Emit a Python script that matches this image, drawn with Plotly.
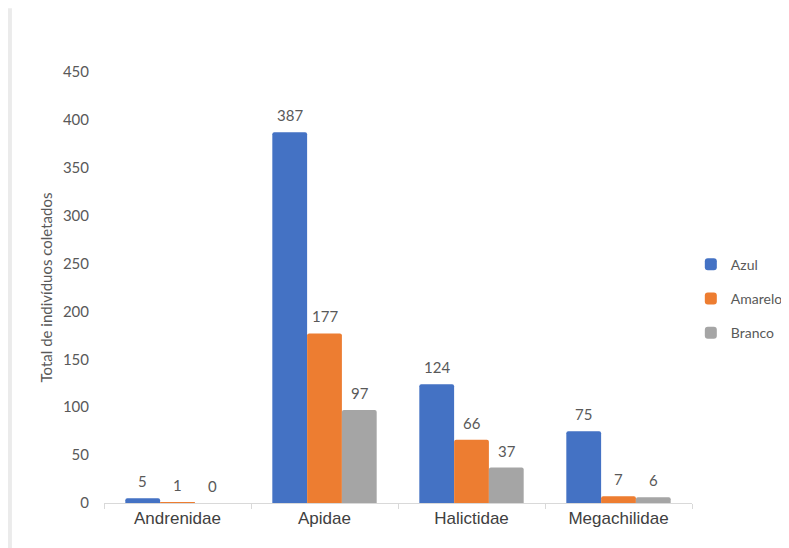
import plotly.graph_objects as go

categories = ["Andrenidae", "Apidae", "Halictidae", "Megachilidae"]
azul = [5, 387, 124, 75]
amarelo = [1, 177, 66, 7]
branco = [0, 97, 37, 6]
series_names = ["Azul", "Amarelo", "Branco"]
colors = ["#4472C4", "#ED7D31", "#A5A5A5"]
y_ticks = [0, 50, 100, 150, 200, 250, 300, 350, 400, 450]

fig = go.Figure()
all_series = [azul, amarelo, branco]
for name, vals, c in zip(series_names, all_series, colors):
    fig.add_trace(go.Bar(x=categories, y=vals, name=name, legendgroup=name,
                         marker=dict(color=c, line=dict(width=0))))

bar_px = 35
annotations = []
for i, vals in enumerate(all_series):
    for cat, v in zip(categories, vals):
        annotations.append(dict(
            x=cat, y=v, xref="x", yref="y", text=str(v), showarrow=False,
            xshift=(i - 1) * bar_px, yshift=6, yanchor="bottom",
            font=dict(family="Lato, Open Sans, sans-serif", size=15, color="#595959")))

fig.update_layout(
    width=789, height=548,
    margin=dict(l=96, r=105, t=64, b=53, autoexpand=False),
    paper_bgcolor="white", plot_bgcolor="white",
    barmode="group", bargap=0.29, bargroupgap=0,
    barcornerradius=2,
    showlegend=True,
    legend=dict(x=0.998, y=0.474, xanchor="left", yanchor="middle",
                font=dict(family="Lato, Open Sans, sans-serif", size=14, color="#595959"),
                itemwidth=30, tracegroupgap=13, bgcolor="rgba(0,0,0,0)"),
    annotations=annotations,
    shapes=[dict(type="line", xref="paper", yref="paper", x0=-0.16, x1=-0.16,
                 y0=1.148, y1=-0.2, line=dict(color="#EBEBEB", width=4))],
    xaxis=dict(showgrid=False, showline=True, linecolor="#D9D9D9", linewidth=1, automargin=False,
               ticks="outside", tickson="boundaries", ticklen=5, tickcolor="#D9D9D9",
               tickfont=dict(family="Liberation Sans, Arial, sans-serif", size=17, color="#404040")),
    yaxis=dict(range=[0, 450], tickvals=y_ticks, showgrid=False, showline=False, zeroline=False,
               automargin=False, ticks="", ticklabelstandoff=14,
               tickfont=dict(family="Lato, Open Sans, sans-serif", size=15, color="#595959"),
               title=dict(text="Total de indivíduos coletados", standoff=6,
                          font=dict(family="Lato, Open Sans, sans-serif", size=15, color="#595959"))),
)

fig.write_html("out.html")
